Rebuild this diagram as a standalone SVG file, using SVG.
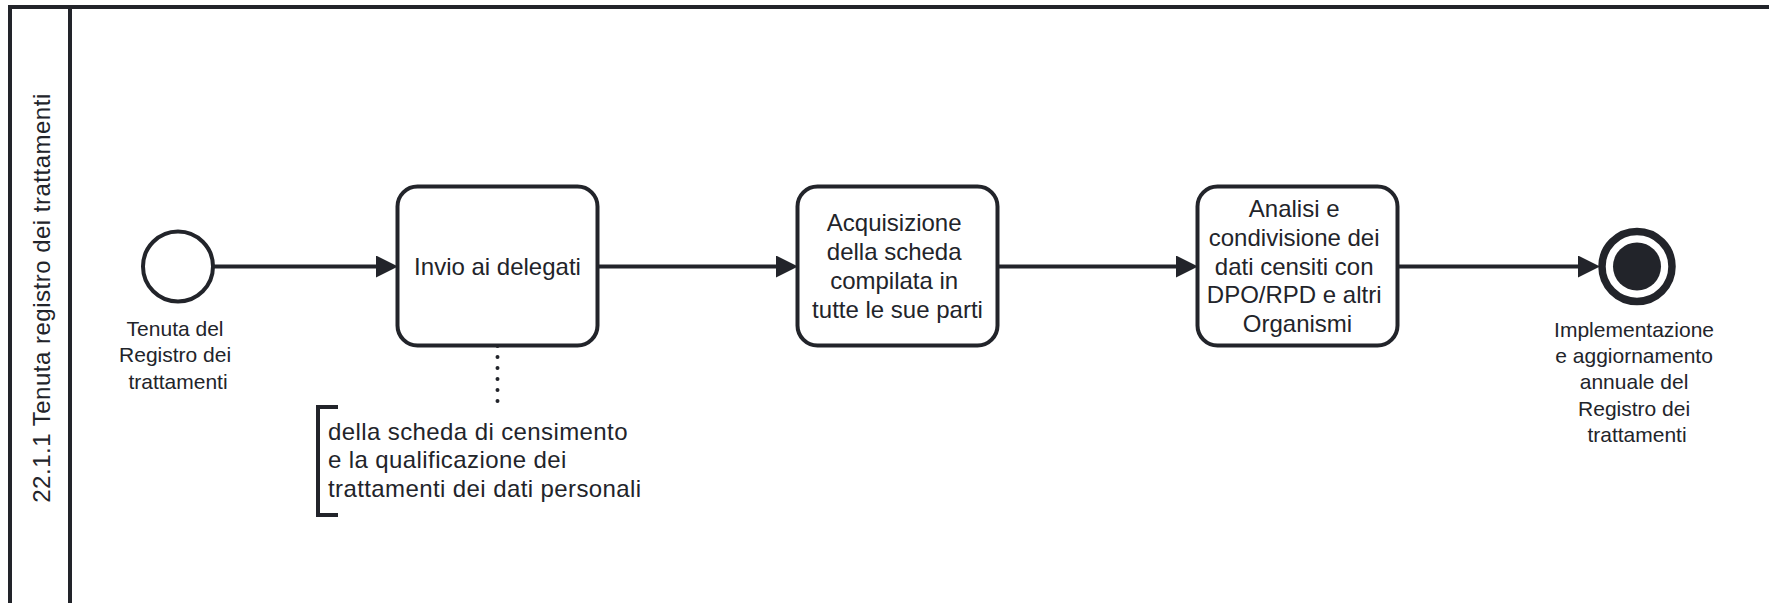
<svg xmlns="http://www.w3.org/2000/svg" width="1769" height="603" viewBox="0 0 1769 603">
  <style>
    .shape { fill: #ffffff; stroke: #22242a; stroke-width: 4; }
    .flow { fill: none; stroke: #22242a; stroke-width: 4; marker-end: url(#arrow); }
    .assoc { fill: none; stroke: #22242a; stroke-width: 4; stroke-linecap: round; stroke-dasharray: 0 11; }
    .txt { font-family: "Liberation Sans", Arial, sans-serif; fill: #22242a; }
    .task-label { font-size: 24px; text-anchor: middle; }
    .ev-label { font-size: 21px; text-anchor: middle; }
    .note-label { font-size: 24px; letter-spacing: 0.4px; }
    .lane-label { font-size: 24px; text-anchor: middle; letter-spacing: 0.5px; }
  </style>
  <defs>
    <marker id="arrow" markerUnits="userSpaceOnUse" viewBox="0 0 22 22" markerWidth="22" markerHeight="22" refX="14" refY="11" orient="auto">
      <path d="M0,0 L22,11 L0,22 Z" fill="#22242a"/>
    </marker>
  </defs>

  <rect width="1769" height="603" fill="#ffffff"/>

  <!-- pool and lane -->
  <g id="pool">
    <rect x="10" y="7" width="1800" height="640" fill="none" stroke="#22242a" stroke-width="4"/>
    <line x1="70" y1="7" x2="70" y2="647" stroke="#22242a" stroke-width="4"/>
    <text class="txt lane-label" transform="translate(49.5,298) rotate(-90)">22.1.1 Tenuta registro dei trattamenti</text>
  </g>

  <!-- sequence flows and association -->
  <g id="connectors">
    <path class="flow" d="M213,266.5 L390,266.5"/>
    <path class="flow" d="M597.5,266.5 L790,266.5"/>
    <path class="flow" d="M997.5,266.5 L1190,266.5"/>
    <path class="flow" d="M1397.5,266.5 L1592,266.5"/>
    <path class="assoc" d="M497.5,346 L497.5,402"/>
  </g>

  <g id="start-event">
    <circle class="shape" cx="178" cy="266.5" r="35"/>
    <text class="txt ev-label">
      <tspan x="178" y="336">Tenuta del</tspan>
      <tspan x="178" y="362.4">Registro dei</tspan>
      <tspan x="178" y="388.8">trattamenti</tspan>
    </text>
  </g>

  <g id="task-invio">
    <rect class="shape" x="397.5" y="186.5" width="200" height="159" rx="20"/>
    <text class="txt task-label" x="497.5" y="274.5">Invio ai delegati</text>
  </g>

  <g id="task-acquisizione">
    <rect class="shape" x="797.5" y="186.5" width="200" height="159" rx="20"/>
    <text class="txt task-label">
      <tspan x="897.5" y="231.3">Acquisizione</tspan>
      <tspan x="897.5" y="260.1">della scheda</tspan>
      <tspan x="897.5" y="288.9">compilata in</tspan>
      <tspan x="897.5" y="317.7">tutte le sue parti</tspan>
    </text>
  </g>

  <g id="task-analisi">
    <rect class="shape" x="1197.5" y="186.5" width="200" height="159" rx="20"/>
    <text class="txt task-label">
      <tspan x="1297.5" y="216.9">Analisi e</tspan>
      <tspan x="1297.5" y="245.7">condivisione dei</tspan>
      <tspan x="1297.5" y="274.5">dati censiti con</tspan>
      <tspan x="1297.5" y="303.3">DPO/RPD e altri</tspan>
      <tspan x="1297.5" y="332.1">Organismi</tspan>
    </text>
  </g>

  <g id="end-event">
    <circle cx="1637" cy="266.5" r="35" fill="#ffffff" stroke="#22242a" stroke-width="7.5"/>
    <circle cx="1637" cy="266.5" r="24" fill="#22242a"/>
    <text class="txt ev-label">
      <tspan x="1637" y="336.5">Implementazione</tspan>
      <tspan x="1637" y="362.9">e aggiornamento</tspan>
      <tspan x="1637" y="389.3">annuale del</tspan>
      <tspan x="1637" y="415.7">Registro dei</tspan>
      <tspan x="1637" y="442.1">trattamenti</tspan>
    </text>
  </g>

  <g id="annotation">
    <path d="M338,407 L318,407 L318,515 L338,515" fill="none" stroke="#22242a" stroke-width="4"/>
    <text class="txt note-label">
      <tspan x="328" y="439.5">della scheda di censimento</tspan>
      <tspan x="328" y="468.3">e la qualificazione dei</tspan>
      <tspan x="328" y="497.1">trattamenti dei dati personali</tspan>
    </text>
  </g>
</svg>
